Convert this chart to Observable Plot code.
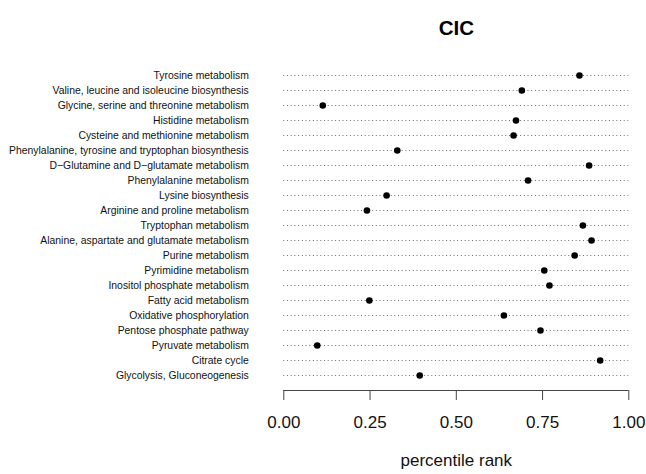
<!DOCTYPE html>
<html>
<head>
<meta charset="utf-8">
<script src="https://cdn.jsdelivr.net/npm/d3@7"></script>
<script src="https://cdn.jsdelivr.net/npm/@observablehq/plot@0.6"></script>
<style>
  html, body { margin: 0; padding: 0; background: #fff; }
  #chart svg { display: block; }
</style>
</head>
<body>
<div id="chart"></div>
<script>
const chartTitle = "CIC";
const axisTitle = "percentile rank";
const pathways = [
  "Tyrosine metabolism",
  "Valine, leucine and isoleucine biosynthesis",
  "Glycine, serine and threonine metabolism",
  "Histidine metabolism",
  "Cysteine and methionine metabolism",
  "Phenylalanine, tyrosine and tryptophan biosynthesis",
  "D\u2212Glutamine and D\u2212glutamate metabolism",
  "Phenylalanine metabolism",
  "Lysine biosynthesis",
  "Arginine and proline metabolism",
  "Tryptophan metabolism",
  "Alanine, aspartate and glutamate metabolism",
  "Purine metabolism",
  "Pyrimidine metabolism",
  "Inositol phosphate metabolism",
  "Fatty acid metabolism",
  "Oxidative phosphorylation",
  "Pentose phosphate pathway",
  "Pyruvate metabolism",
  "Citrate cycle",
  "Glycolysis, Gluconeogenesis"
];
const percentileRank = [
  0.857, 0.690, 0.113, 0.673, 0.666, 0.329, 0.885, 0.708, 0.298, 0.241,
  0.867, 0.892, 0.843, 0.755, 0.770, 0.248, 0.638, 0.744, 0.097, 0.917, 0.394
];
const xTicks = [0, 0.25, 0.5, 0.75, 1];

const data = pathways.map((name, i) => ({name, value: percentileRank[i]}));

const W = 646, H = 474;
const mL = 283.3, mR = 17.7, mB = 84, mT = 0;

const chart = Plot.plot({
  width: W,
  height: H,
  marginLeft: mL,
  marginRight: mR,
  marginTop: mT,
  marginBottom: mB,
  style: {fontFamily: "'Liberation Sans', Arial, Helvetica, sans-serif", fontSize: "17px", color: "#000", background: "#fff"},
  x: {domain: [0, 1]},
  y: {type: "point", domain: pathways, range: [72, 378], padding: 0},
  marks: [
    Plot.ruleY(data, {y: "name", stroke: "#6e6e6e", strokeWidth: 1, strokeDasharray: "1,2.7"}),
    Plot.dot(data, {x: "value", y: "name", r: 3.3, fill: "#000", stroke: "none"}),
    Plot.axisY({tickSize: 0, tickPadding: 35, fontSize: 10.4, label: null, fill: "#111"}),
    Plot.axisX({ticks: xTicks, tickFormat: d3.format(".2f"), tickSize: 10, tickPadding: 15, label: null, stroke: "#444", fill: "#111"}),
    Plot.text([chartTitle], {frameAnchor: "top", dy: 28, lineAnchor: "middle", fontSize: 20.5, fontWeight: "bold", fill: "#000"}),
    Plot.text([axisTitle], {frameAnchor: "bottom", dy: 70, lineAnchor: "middle", fontSize: 17, fill: "#111"})
  ]
});

// axis baseline from the first to the last tick, via the plot's x scale
const sx = chart.scale("x");
const toPx = (v) => sx.range[0] + (v - sx.domain[0]) / (sx.domain[1] - sx.domain[0]) * (sx.range[1] - sx.range[0]);
const ns = "http://www.w3.org/2000/svg";
const base = document.createElementNS(ns, "line");
base.setAttribute("x1", toPx(xTicks[0]));
base.setAttribute("x2", toPx(xTicks[xTicks.length - 1]));
base.setAttribute("y1", H - mB + 0.5);
base.setAttribute("y2", H - mB + 0.5);
base.setAttribute("stroke", "#444");
base.setAttribute("stroke-width", "1");
chart.appendChild(base);

document.getElementById("chart").appendChild(chart);
</script>
</body>
</html>
